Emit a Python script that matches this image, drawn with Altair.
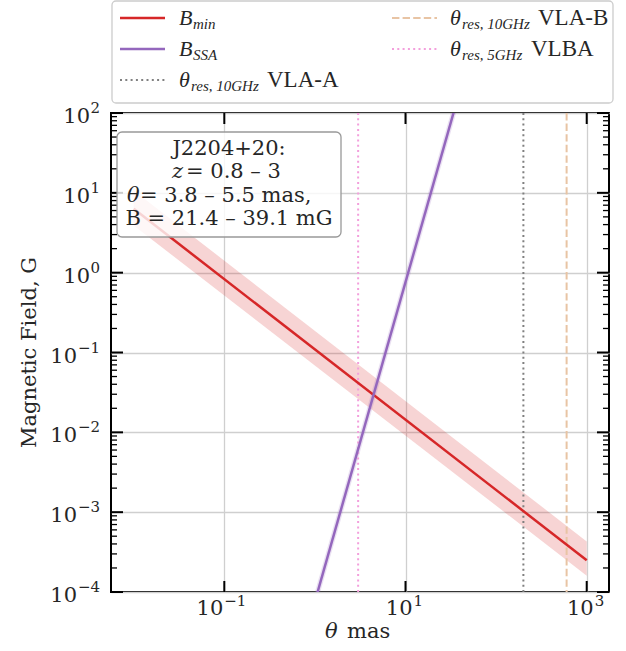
import altair as alt
import pandas as pd

# ---------------- data ----------------
theta_bmin = [0.01, 1000.0]
bmin_center = [6.3, 2.5e-4]
bmin_upper = [10.7, 4.3e-4]
bmin_lower = [3.9, 1.6e-4]

theta_ssa = [1.0, 40.0]
bssa_center = [7.6e-5, 195.0]
bssa_upper = [1.0e-4, 257.0]
bssa_lower = [5.8e-5, 148.0]

res_names = ["VLA-A", "VLA-B", "VLBA"]
res_theta = [200.0, 600.0, 3.0]

x_exponents = [-1, 1, 3]
y_exponents = [-4, -3, -2, -1, 0, 1, 2]

# annotation: (italic symbol, rest) per line
note_lines = [("", "J2204+20:"), ("z", "= 0.8 – 3"), ("θ", "= 3.8 – 5.5 mas,"),
              ("", "B = 21.4 – 39.1 mG")]

# ---------------- layout ----------------
W, H = 498, 479
RED = "#d62728"
PURPLE = "#9467bd"
GRAY = "#808080"
TAN = "#e8c4a4"
PINK = "#f39fdc"
SERIF = "DejaVu Serif"
MATH = "Liberation Serif"
INK = "#262626"

xscale = alt.Scale(type="log", domain=[0.005616, 1762], nice=False)
yscale = alt.Scale(type="log", domain=[1e-4, 1e2], nice=False)

xaxis = alt.Axis(values=[10.0 ** k for k in x_exponents], grid=True, ticks=False,
                 domain=False, labels=False, title="")
yaxis = alt.Axis(values=[10.0 ** k for k in y_exponents], grid=True, ticks=False,
                 domain=False, labels=False, title="")


def X(field="theta"):
    return alt.X(f"{field}:Q", scale=xscale, axis=xaxis)


def Y(field="B"):
    return alt.Y(f"{field}:Q", scale=yscale, axis=yaxis)


bmin_df = pd.DataFrame({"theta": theta_bmin, "B": bmin_center,
                        "hi": bmin_upper, "lo": bmin_lower})
ssa_df = pd.DataFrame({"theta": theta_ssa, "B": bssa_center,
                       "hi": bssa_upper, "lo": bssa_lower})
res_df = pd.DataFrame({"name": res_names, "theta": res_theta})

layers = []

# bands
layers.append(alt.Chart(bmin_df).mark_area(color=RED, opacity=0.2, clip=True).encode(
    x=X(), y=Y("hi"), y2="lo:Q"))
layers.append(alt.Chart(ssa_df).mark_area(color=PURPLE, opacity=0.2, clip=True).encode(
    x=X(), y=Y("hi"), y2="lo:Q"))

# resolution lines
res_style = {"VLA-A": (GRAY, [2, 3.3]), "VLA-B": (TAN, [7.4, 3.2]), "VLBA": (PINK, [2, 3.3])}
for name in res_names:
    col, dash = res_style[name]
    layers.append(alt.Chart(res_df[res_df.name == name]).mark_rule(
        color=col, strokeWidth=2, strokeDash=dash).encode(x=X()))

# main lines
layers.append(alt.Chart(bmin_df).mark_line(color=RED, strokeWidth=2.5, clip=True).encode(
    x=X(), y=Y()))
layers.append(alt.Chart(ssa_df).mark_line(color=PURPLE, strokeWidth=2.5, clip=True).encode(
    x=X(), y=Y()))

# inward ticks (matplotlib style)
ymaj = pd.DataFrame({"B": [10.0 ** k for k in y_exponents]})
ymin = pd.DataFrame({"B": [m * 10.0 ** k for k in y_exponents[:-1] for m in range(2, 10)]})
xmaj = pd.DataFrame({"theta": [10.0 ** k for k in x_exponents]})
for df, L, sw in [(ymaj, 12, 2), (ymin, 6, 1.3)]:
    layers.append(alt.Chart(df).mark_rule(color="black", strokeWidth=sw).encode(
        y=Y(), x=alt.value(0), x2=alt.value(L)))
    layers.append(alt.Chart(df).mark_rule(color="black", strokeWidth=sw).encode(
        y=Y(), x=alt.value(W), x2=alt.value(W - L)))
layers.append(alt.Chart(xmaj).mark_rule(color="black", strokeWidth=2).encode(
    x=X(), y=alt.value(H), y2=alt.value(H - 11)))
layers.append(alt.Chart(xmaj).mark_rule(color="black", strokeWidth=2).encode(
    x=X(), y=alt.value(0), y2=alt.value(11)))

# tick labels: "10" with a raised exponent
MINUS = "−"


def exp_str(k):
    return (MINUS + str(-k)) if k < 0 else str(k)


xl = pd.DataFrame({"theta": [10.0 ** k for k in x_exponents],
                   "e": [exp_str(k) for k in x_exponents],
                   "neg": [k < 0 for k in x_exponents]})
yl = pd.DataFrame({"B": [10.0 ** k for k in y_exponents],
                   "e": [exp_str(k) for k in y_exponents],
                   "neg": [k < 0 for k in y_exponents]})
for neg in (True, False):
    sub = xl[xl.neg == neg]
    d10, de = (-1, 0) if neg else (7, 8)
    layers.append(alt.Chart(sub).mark_text(
        font=SERIF, fontSize=21, color=INK, align="right", baseline="middle", dx=d10).encode(
        x=X(), y=alt.value(H + 17), text=alt.value("10")))
    layers.append(alt.Chart(sub).mark_text(
        font=SERIF, fontSize=15, color=INK, align="left", baseline="middle", dx=de).encode(
        x=X(), y=alt.value(H + 9), text="e:N"))
    sub = yl[yl.neg == neg]
    w = 23 if neg else 10
    layers.append(alt.Chart(sub).mark_text(
        font=SERIF, fontSize=21, color=INK, align="right", baseline="middle", dy=4).encode(
        y=Y(), x=alt.value(-11 - w), text=alt.value("10")))
    layers.append(alt.Chart(sub).mark_text(
        font=SERIF, fontSize=15, color=INK, align="right", baseline="middle", dy=-5).encode(
        y=Y(), x=alt.value(-11), text="e:N"))

# axis titles
layers.append(alt.Chart(pd.DataFrame({"t": ["θ"]})).mark_text(
    font=SERIF, fontSize=21, fontStyle="italic", color=INK, align="left",
    baseline="middle").encode(text="t:N", x=alt.value(214), y=alt.value(H + 40)))
layers.append(alt.Chart(pd.DataFrame({"t": ["mas"]})).mark_text(
    font=SERIF, fontSize=21, color=INK, align="left",
    baseline="middle").encode(text="t:N", x=alt.value(236), y=alt.value(H + 40)))
layers.append(alt.Chart(pd.DataFrame({"t": ["Magnetic Field, G"]})).mark_text(
    font=SERIF, fontSize=21, color=INK, align="center", baseline="middle", angle=270).encode(
    text="t:N", x=alt.value(-81), y=alt.value(H / 2)))

# annotation box
one = pd.DataFrame({"k": [0]})
BX0, BX1, BY0, BY1 = 6, 230, 19, 124
layers.append(alt.Chart(one).mark_rect(fill="white", fillOpacity=0.8, stroke="#999999",
                                       strokeWidth=1.3, cornerRadius=5).encode(
    x=alt.value(BX0), x2=alt.value(BX1), y=alt.value(BY0), y2=alt.value(BY1)))
sym_x = {"z": 61, "θ": 16}
rest_x = {"z": 75, "θ": 29}
for i, (sym, rest) in enumerate(note_lines):
    yy = 36 + 23.3 * i
    if sym:
        layers.append(alt.Chart(pd.DataFrame({"t": [sym]})).mark_text(
            font=SERIF, fontSize=21, fontStyle="italic", color=INK, align="left",
            baseline="middle").encode(text="t:N", x=alt.value(sym_x[sym]), y=alt.value(yy)))
        layers.append(alt.Chart(pd.DataFrame({"t": [rest]})).mark_text(
            font=SERIF, fontSize=21, color=INK, align="left",
            baseline="middle").encode(text="t:N", x=alt.value(rest_x[sym]), y=alt.value(yy)))
    else:
        layers.append(alt.Chart(pd.DataFrame({"t": [rest]})).mark_text(
            font=SERIF, fontSize=21, color=INK, align="center", baseline="middle").encode(
            text="t:N", x=alt.value((BX0 + BX1) / 2), y=alt.value(yy)))

# legend (drawn above the plot)
layers.append(alt.Chart(one).mark_rect(fill="white", stroke="#cccccc",
                                       strokeWidth=1.3, cornerRadius=4).encode(
    x=alt.value(1), x2=alt.value(502), y=alt.value(-112), y2=alt.value(-10)))
legend_items = [
    # (col, row, colour, dash, symbol, subscript, suffix)
    (0, 0, RED, None, "B", "min", ""),
    (0, 1, PURPLE, None, "B", "SSA", ""),
    (0, 2, GRAY, [2, 3.3], "θ", "res, 10GHz", "VLA-A"),
    (1, 0, TAN, [7.4, 3.2], "θ", "res, 10GHz", "VLA-B"),
    (1, 1, PINK, [2, 3.3], "θ", "res, 5GHz", "VLBA"),
]
col_line_x = [9, 281]
col_text_x = [68, 339]
row_y = [-95, -64, -33]
for c, r, colr, dash, sym, sub, suf in legend_items:
    y0 = row_y[r]
    kw = dict(color=colr, strokeWidth=2.5 if dash is None else 2)
    if dash is not None:
        kw["strokeDash"] = dash
    layers.append(alt.Chart(one).mark_rule(**kw).encode(
        x=alt.value(col_line_x[c]), x2=alt.value(col_line_x[c] + 45), y=alt.value(y0)))
    tx = col_text_x[c]
    layers.append(alt.Chart(pd.DataFrame({"t": [sym]})).mark_text(
        font=MATH, fontSize=22, fontStyle="italic", color=INK,
        align="left", baseline="middle").encode(text="t:N", x=alt.value(tx), y=alt.value(y0)))
    sx = tx + (14 if sym == "B" else 12)
    layers.append(alt.Chart(pd.DataFrame({"t": [sub]})).mark_text(
        font=MATH, fontSize=15, fontStyle="italic", color=INK,
        align="left", baseline="middle").encode(text="t:N", x=alt.value(sx), y=alt.value(y0 + 6)))
    if suf:
        sfx = tx + (88 if "10" in sub else 81)
        layers.append(alt.Chart(pd.DataFrame({"t": [suf]})).mark_text(
            font=MATH, fontSize=23, color=INK,
            align="left", baseline="middle").encode(text="t:N", x=alt.value(sfx), y=alt.value(y0)))

chart = alt.layer(*layers).properties(
    width=W, height=H,
    autosize=alt.AutoSizeParams(type="none"),
    padding={"left": 111, "top": 113, "right": 17, "bottom": 59},
).configure_view(stroke="black", strokeWidth=2).configure_axis(
    gridColor="#cfcfcf", gridWidth=1.3)

chart.save("out.html", embed_options={"renderer": "svg", "actions": False})
